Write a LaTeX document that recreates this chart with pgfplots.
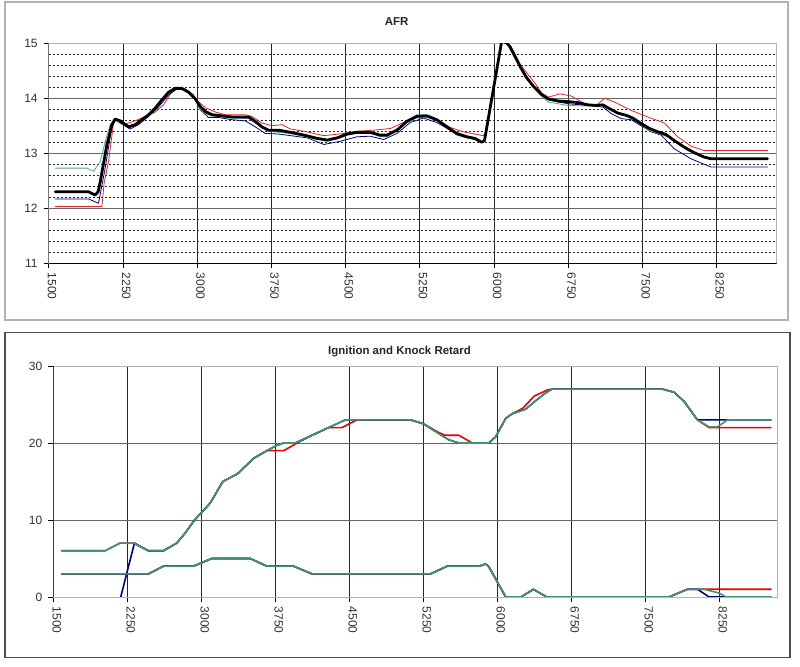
\documentclass[border=0pt]{standalone}
\usepackage{pgfplots}
\pgfplotsset{compat=1.18}
\usepackage{fontspec}
\setmainfont{Liberation Sans}
\definecolor{xgreen}{RGB}{64,150,110}
\definecolor{xtgreen}{RGB}{90,165,135}
\definecolor{xred}{RGB}{235,0,0}
\definecolor{xtred}{RGB}{215,40,40}
\definecolor{xnavy}{RGB}{0,0,128}
\definecolor{xtick}{RGB}{50,50,50}
\pgfplotsset{
  xlbase/.style={
    scale only axis, anchor=south west,
    tick align=outside, tick pos=left,
    major tick length=3.75pt, minor tick length=0pt,
    tick style={black, line width=0.5pt},
    axis line style={gray!60, line width=0.6pt},
    xtick={1500,2250,...,8250},
    ticklabel style={font=\fontsize{9}{10.8}\selectfont, text=xtick},
    x tick label style={rotate=-90, anchor=west, yshift=2.5pt},
    y tick label style={xshift=-1pt},
    /pgf/number format/.cd, 1000 sep={}, assume math mode=true, /pgfplots/.cd,
    major x grid style={black!85, line width=0.5pt},
    major y grid style={black!60, line width=0.65pt},
    every axis plot/.append style={no marks, line join=round, line cap=round},
    clip=true,
  }
}
\begin{document}
\begin{tikzpicture}
\path[fill=white] (0,0) rectangle (600pt,500.25pt);
\draw[gray!60, line width=0.8pt] (3.75pt,260.25pt) rectangle (591pt,498.75pt);
\draw[black!70, line width=0.8pt] (3.75pt,7pt) rectangle (592.5pt,250.9pt);
\node[font=\bfseries\fontsize{8.6}{10}\selectfont, text=black!85] at (297.4pt,483.75pt) {AFR};
\node[font=\bfseries\fontsize{8.6}{10}\selectfont, text=black!85] at (299.6pt,236.25pt) {Ignition and Knock Retard};

\begin{axis}[xlbase,
  at={(36.5pt,302.8pt)}, width=546pt, height=165pt,
  xmin=1500, xmax=8858, ymin=11, ymax=15,
  ytick={11,12,13,14,15}, minor y tick num=4,
  xmajorgrids, ymajorgrids, yminorgrids,
  minor y grid style={black!85, line width=0.45pt, dash pattern=on 1.6pt off 1.4pt},
]
% red
\addplot[xtred, line width=0.6pt] coordinates {
(1566,12.03)(2038,12.03)(2060,12.45)(2105,12.85)(2156,13.55)(2189,13.62)(2274,13.53)(2375,13.59)
(2476,13.67)(2577,13.75)(2661,13.88)(2745,14.12)(2813,14.18)(2914,14.11)(2981,13.99)(3083,13.83)
(3184,13.75)(3285,13.70)(3487,13.70)(3555,13.67)(3656,13.55)(3757,13.50)(3858,13.52)(3946,13.44)
(4080,13.40)(4282,13.32)(4483,13.36)(4617,13.40)(4785,13.42)(4953,13.45)(5087,13.56)(5222,13.67)
(5322,13.66)(5457,13.58)(5558,13.47)(5692,13.39)(5893,13.32)(5910,13.35)(6080,15.05)(6130,15.02)
(6200,14.85)(6264,14.62)(6350,14.42)(6414,14.28)(6481,14.10)(6549,14.02)(6666,14.08)(6784,14.04)
(6918,13.90)(7035,13.87)(7119,14.00)(7220,13.93)(7388,13.78)(7555,13.66)(7723,13.55)(7857,13.30)
(7992,13.13)(8126,13.05)(8764,13.05)};
% blue
\addplot[xnavy, line width=0.6pt] coordinates {
(1566,12.17)(1903,12.17)(2004,12.09)(2071,12.73)(2139,13.48)(2172,13.61)(2223,13.55)(2324,13.44)
(2408,13.52)(2510,13.67)(2610,13.84)(2712,14.06)(2796,14.17)(2880,14.17)(2964,14.06)(3032,13.79)
(3116,13.65)(3218,13.65)(3352,13.61)(3487,13.59)(3588,13.48)(3689,13.36)(3824,13.35)(3946,13.32)
(4115,13.28)(4282,13.16)(4450,13.22)(4617,13.30)(4752,13.31)(4886,13.25)(5020,13.36)(5155,13.56)
(5289,13.64)(5423,13.56)(5558,13.42)(5692,13.30)(5826,13.24)(5893,13.20)(5905,13.23)(6080,15.05)
(6130,15.00)(6264,14.58)(6398,14.22)(6481,14.05)(6549,13.97)(6750,13.90)(6951,13.87)(7102,13.84)
(7186,13.72)(7287,13.63)(7388,13.61)(7488,13.50)(7589,13.39)(7690,13.33)(7824,13.08)(7992,12.90)
(8193,12.75)(8764,12.75)};
% green
\addplot[xtgreen, line width=0.6pt] coordinates {
(1566,12.73)(1886,12.73)(1953,12.67)(2021,12.85)(2071,13.21)(2122,13.52)(2172,13.63)(2223,13.58)
(2307,13.48)(2375,13.53)(2442,13.62)(2510,13.72)(2577,13.84)(2644,13.99)(2712,14.12)(2779,14.19)
(2847,14.19)(2914,14.11)(2981,13.97)(3032,13.80)(3083,13.72)(3150,13.68)(3251,13.66)(3352,13.64)
(3521,13.63)(3588,13.55)(3656,13.46)(3723,13.40)(3824,13.38)(3946,13.36)(4080,13.31)(4215,13.25)
(4315,13.22)(4416,13.26)(4517,13.33)(4617,13.37)(4752,13.36)(4852,13.30)(4920,13.30)(5020,13.42)
(5121,13.60)(5222,13.70)(5322,13.70)(5423,13.62)(5524,13.47)(5624,13.33)(5725,13.28)(5809,13.26)
(5876,13.20)(5905,13.23)(6080,15.05)(6130,15.00)(6264,14.58)(6398,14.22)(6481,14.04)(6549,13.93)
(6750,13.87)(6918,13.86)(7102,13.88)(7253,13.72)(7420,13.63)(7555,13.42)(7757,13.30)(7958,13.05)
(8159,12.92)(8226,12.90)(8764,12.90)};
% black thick
\addplot[black, line width=2.1pt] coordinates {
(1566,12.30)(1903,12.30)(1970,12.24)(2000,12.30)(2021,12.48)(2088,13.15)(2139,13.52)(2172,13.62)
(2223,13.59)(2307,13.48)(2375,13.52)(2442,13.61)(2510,13.70)(2577,13.82)(2644,13.97)(2712,14.11)
(2779,14.18)(2847,14.18)(2914,14.11)(2981,13.99)(3032,13.85)(3083,13.76)(3150,13.70)(3251,13.68)
(3352,13.66)(3453,13.66)(3521,13.66)(3588,13.58)(3656,13.48)(3723,13.42)(3824,13.42)(3946,13.38)
(4080,13.33)(4215,13.27)(4315,13.24)(4416,13.28)(4517,13.35)(4617,13.38)(4752,13.38)(4852,13.33)
(4920,13.33)(5020,13.42)(5121,13.58)(5222,13.67)(5322,13.68)(5423,13.61)(5524,13.48)(5624,13.36)
(5725,13.30)(5809,13.27)(5876,13.20)(5905,13.23)(6080,15.05)(6130,15.00)(6163,14.94)(6264,14.58)
(6328,14.38)(6398,14.22)(6481,14.07)(6549,13.99)(6649,13.95)(6750,13.94)(6851,13.92)(6951,13.88)
(7035,13.87)(7102,13.88)(7170,13.81)(7253,13.73)(7337,13.69)(7404,13.64)(7488,13.54)(7572,13.45)
(7656,13.39)(7740,13.34)(7824,13.23)(7925,13.11)(8025,13.01)(8126,12.93)(8193,12.90)(8764,12.90)};
\draw[black, line width=0.6pt] (rel axis cs:0,1) -- (rel axis cs:0,0) -- (rel axis cs:1,0);
\end{axis}

\begin{axis}[xlbase,
  at={(40pt,52.5pt)}, width=543pt, height=173.25pt,
  xmin=1500, xmax=8838, ymin=0, ymax=30,
  ytick={0,10,20,30},
  xmajorgrids, ymajorgrids,
]
% red ignition
\addplot[xred, line width=1.2pt] coordinates {
(1585,6)(2024,6)(2176,7)(2312,7)(2464,6)(2616,6)(2751,7)(2836,8.3)(2931,10)(3005,11)(3090,12.2)
(3218,15)(3367,16)(3529,18)(3664,19)(3834,19)(3970,20)(4121,21)(4290,22)(4425,22)(4578,23)
(5120,23)(5250,22.5)(5400,21.4)(5470,21)(5611,21)(5746,20)(5915,20)(5983,20.8)(6085,23.2)
(6152,23.8)(6257,24.5)(6375,26.1)(6510,26.9)(6561,27)(7672,27)(7791,26.6)(7893,25.4)(8028,23)
(8147,22)(8774,22)};
% red knock
\addplot[xred, line width=1.2pt] coordinates {
(1585,3)(2329,3)(2464,3)(2616,4)(2920,4)(3106,5)(3495,5)(3664,4)(3935,4)(4121,3)(5323,3)(5492,4)
(5814,4)(5882,4.3)(5915,3.9)(6085,0)(6240,0)(6365,1)(6500,0)(7740,0)(7926,1)(8096,1)(8774,1)};
% blue ignition
\addplot[xnavy, line width=1.2pt] coordinates {
(2183,0)(2322,7)(2464,6)(2616,6)(2751,7)(2836,8.3)(2931,10)(3005,11)(3090,12.2)
(3218,15)(3367,16)(3529,18)(3664,19)(3766,19.7)(3834,20)(3951,20)(4121,21)(4290,22)(4459,23)
(5120,23)(5250,22.5)(5509,20.4)(5611,20)(5915,20)(5983,20.8)(6085,23.2)(6152,23.8)(6288,24.4)
(6390,25.5)(6490,26.5)(6553,27)(7672,27)(7791,26.6)(7893,25.4)(8028,23)(8316,23)(8774,23)};
% blue knock
\addplot[xnavy, line width=1.2pt] coordinates {
(1585,3)(2329,3)(2464,3)(2616,4)(2920,4)(3106,5)(3495,5)(3664,4)(3935,4)(4121,3)(5323,3)(5492,4)
(5814,4)(5882,4.3)(5915,3.9)(6085,0)(6240,0)(6365,1)(6500,0)(7740,0)(7926,1)(8030,1)(8147,0)(8774,0)};
% green ignition
\addplot[xgreen, line width=1.2pt] coordinates {
(1585,6)(2024,6)(2176,7)(2312,7)(2464,6)(2616,6)(2751,7)(2836,8.3)(2931,10)(3005,11)(3090,12.2)
(3218,15)(3367,16)(3529,18)(3664,19)(3766,19.7)(3834,20)(3951,20)(4121,21)(4290,22)(4459,23)
(5120,23)(5250,22.5)(5509,20.4)(5611,20)(5915,20)(5983,20.8)(6085,23.2)(6152,23.8)(6288,24.4)
(6390,25.5)(6490,26.5)(6553,27)(7672,27)(7791,26.6)(7893,25.4)(8028,23)(8147,22.1)(8231,22.1)
(8333,23)(8774,23)};
% green knock
\addplot[xgreen, line width=1.2pt] coordinates {
(1585,3)(2329,3)(2464,3)(2616,4)(2920,4)(3106,5)(3495,5)(3664,4)(3935,4)(4121,3)(5323,3)(5492,4)
(5814,4)(5882,4.3)(5915,3.9)(6085,0)(6240,0)(6365,1)(6500,0)(7740,0)(7926,1)(8096,1)(8250,0.5)
(8318,0)(8774,0)};
\draw[black, line width=0.6pt] (rel axis cs:0,1) -- (rel axis cs:0,0) -- (rel axis cs:1,0);
\end{axis}
\end{tikzpicture}
\end{document}
